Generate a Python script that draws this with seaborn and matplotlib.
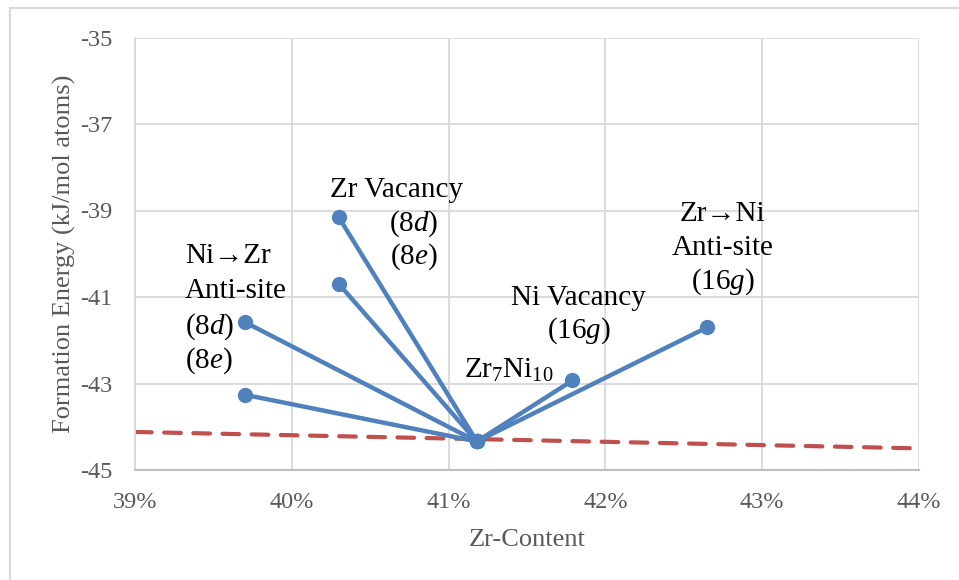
import matplotlib
matplotlib.use("Agg")
import matplotlib.pyplot as plt
from matplotlib.lines import Line2D
from matplotlib.ticker import FuncFormatter
import seaborn as sns
import pandas as pd

# Formation energy of Zr7Ni10 and its point defects
host_x = 41.18          # Zr content, %
host_y = -44.34         # kJ/mol atoms

defects = ["Ni->Zr 8d", "Ni->Zr 8e", "Zr vac 8d", "Zr vac 8e", "Ni vac 16g", "Zr->Ni 16g"]
defect_x = [39.70, 39.70, 40.30, 40.30, 41.79, 42.65]
defect_y = [-41.58, -43.26, -39.16, -40.70, -42.93, -41.70]

# Convex hull (dashed reference line)
hull_x = [39.0, 44.0]
hull_y = [-44.12, -44.50]

x_ticks = [39, 40, 41, 42, 43, 44]
y_ticks = [-45, -43, -41, -39, -37, -35]

sns.set_theme(style="white")
plt.rcParams["font.family"] = ["Liberation Serif", "DejaVu Serif"]
plt.rcParams["mathtext.fontset"] = "custom"
plt.rcParams["mathtext.rm"] = "Liberation Serif"
plt.rcParams["mathtext.it"] = "Liberation Serif:italic"
plt.rcParams["mathtext.default"] = "regular"

rows = []
for name, dx, dy in zip(defects, defect_x, defect_y):
    rows.append({"seg": name, "order": 0, "x": host_x, "y": host_y})
    rows.append({"seg": name, "order": 1, "x": dx, "y": dy})
seg_df = pd.DataFrame(rows)
hull_df = pd.DataFrame({"x": hull_x, "y": hull_y})

fig = plt.figure(figsize=(9.59, 5.80), dpi=100)
ax = fig.add_axes([135 / 959, 1 - 470 / 580, 784 / 959, 432.5 / 580])

blue = "#4F81BD"
red = "#C0504D"
grid_c = "#D9D9D9"
txt_gray = "#595959"

sns.lineplot(data=hull_df, x="x", y="y", ax=ax, color=red, lw=3.0,
             estimator=None, sort=False, zorder=2, linestyle=(0, (4, 3)))
ax.lines[-1].set_dash_capstyle("round")
sns.lineplot(data=seg_df, x="x", y="y", units="seg", estimator=None, sort=False,
             ax=ax, color=blue, lw=3.2, marker="o", markersize=11,
             markeredgewidth=0, zorder=3)

ax.set_xlim(39, 44)
ax.set_ylim(-45, -35)
ax.set_xticks(x_ticks)
ax.set_yticks(y_ticks)
ax.xaxis.set_major_formatter(FuncFormatter(lambda v, p: f"{v:.0f}%"))
ax.yaxis.set_major_formatter(FuncFormatter(lambda v, p: f"{v:.0f}"))
ax.grid(True, color=grid_c, lw=1.3, zorder=0)
ax.set_axisbelow(True)
for side in ["top", "right"]:
    ax.spines[side].set_visible(False)
ax.spines["left"].set_color(grid_c)
ax.spines["left"].set_linewidth(1.3)
ax.spines["bottom"].set_color("#BFBFBF")
ax.spines["bottom"].set_linewidth(1.5)
ax.tick_params(axis="both", length=0, labelsize=17.5, labelcolor=txt_gray)
ax.tick_params(axis="y", pad=16)
ax.tick_params(axis="x", pad=16)

ax.set_xlabel("Zr-Content", fontsize=19, color=txt_gray)
ax.set_ylabel("Formation Energy (kJ/mol atoms)", fontsize=19, color=txt_gray)
ax.xaxis.set_label_coords(0.5, -0.136)
ax.yaxis.set_label_coords(-0.075, 0.5)

fs = 21
kw = dict(fontsize=fs, color="black", va="center", zorder=5)
arrow_fonts = ["Liberation Serif", "DejaVu Sans"]
# Ni -> Zr anti-site
ax.text(39.32, -40.05, "Ni\u2192Zr", ha="left", family=arrow_fonts, **kw)
ax.text(39.32, -40.86, "Anti-site", ha="left", **kw)
ax.text(39.32, -41.69, r"(8$\mathit{d}$)", ha="left", **kw)
ax.text(39.32, -42.48, r"(8$\mathit{e}$)", ha="left", **kw)
# Zr vacancy
ax.text(40.243, -38.52, "Zr Vacancy", ha="left", **kw)
ax.text(40.778, -39.30, r"(8$\mathit{d}$)", ha="center", **kw)
ax.text(40.778, -40.06, r"(8$\mathit{e}$)", ha="center", **kw)
# Ni vacancy
ax.text(41.827, -41.03, "Ni Vacancy", ha="center", **kw)
ax.text(41.83, -41.77, r"(16$\mathit{g}$)", ha="center", **kw)
# Zr -> Ni anti-site
ax.text(42.748, -39.07, "Zr\u2192Ni", ha="center", family=arrow_fonts, **kw)
ax.text(42.748, -39.86, "Anti-site", ha="center", **kw)
ax.text(42.748, -40.64, r"(16$\mathit{g}$)", ha="center", **kw)
# host compound
ax.text(41.384, -42.87, r"Zr$_7$Ni$_{10}$", ha="center", va="baseline",
        fontsize=fs, color="black", zorder=5)

# chart-area frame
fig.add_artist(Line2D([10 / 959, 10 / 959], [0, 1 - 8 / 580], transform=fig.transFigure,
                      color=grid_c, lw=1.5))
fig.add_artist(Line2D([10 / 959, 1], [1 - 8 / 580, 1 - 8 / 580], transform=fig.transFigure,
                      color=grid_c, lw=1.5))

fig.savefig("out.png", dpi=100)
